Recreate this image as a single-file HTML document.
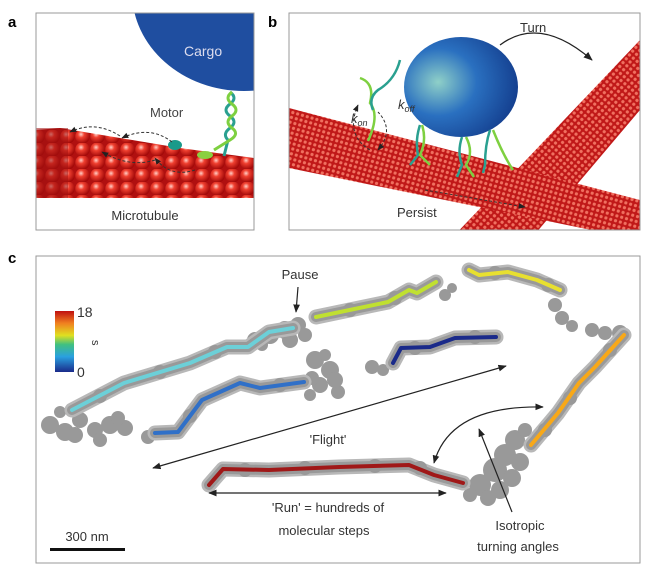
<!DOCTYPE html>
<html><head><meta charset="utf-8"><style>
body{margin:0;background:#fff;width:645px;height:580px;overflow:hidden}
svg{display:block;font-family:"Liberation Sans",sans-serif}
</style></head><body>
<svg width="645" height="580" viewBox="0 0 645 580">
<defs>
<radialGradient id="sph" cx="0.4" cy="0.35" r="0.65">
<stop offset="0" stop-color="#ffd0c8"/><stop offset="0.35" stop-color="#f04030"/><stop offset="1" stop-color="#a00808"/></radialGradient>
<pattern id="balls" width="15" height="13" patternUnits="userSpaceOnUse">
<rect width="15" height="13" fill="#b01010"/>
<circle cx="7.5" cy="6.5" r="7.2" fill="url(#sph)"/></pattern>
<pattern id="mt" width="5" height="5" patternUnits="userSpaceOnUse" patternTransform="rotate(16)">
<rect width="5" height="5" fill="#c01818"/><circle cx="2.5" cy="2.5" r="1.6" fill="#f07060"/></pattern>
<pattern id="mt2" width="5" height="5" patternUnits="userSpaceOnUse" patternTransform="rotate(-50)">
<rect width="5" height="5" fill="#c01818"/><circle cx="2.5" cy="2.5" r="1.6" fill="#f07060"/></pattern>
<radialGradient id="cb" cx="0.3" cy="0.45" r="0.75">
<stop offset="0" stop-color="#8fd0c8"/><stop offset="0.45" stop-color="#2a70c0"/><stop offset="1" stop-color="#123a8a"/></radialGradient>
<linearGradient id="bar" x1="0" y1="1" x2="0" y2="0">
<stop offset="0" stop-color="#1a2a8a"/><stop offset="0.25" stop-color="#2aa0e0"/><stop offset="0.45" stop-color="#40c080"/><stop offset="0.6" stop-color="#e0e020"/><stop offset="0.8" stop-color="#f08020"/><stop offset="1" stop-color="#c01010"/></linearGradient>
<marker id="ah" viewBox="0 0 10 10" refX="9" refY="5" markerWidth="7" markerHeight="7" orient="auto-start-reverse"><path d="M0,1 L10,5 L0,9 z" fill="#222"/></marker>
<clipPath id="ca"><rect x="36" y="13" width="218" height="217"/></clipPath>
<clipPath id="cbp"><rect x="289" y="13" width="351" height="217"/></clipPath>
</defs>
<text x="8" y="27" font-size="15" font-weight="bold">a</text>
<g clip-path="url(#ca)">
<ellipse cx="244" cy="-8" rx="112" ry="99" fill="#1f4ea0"/>
<path d="M36,130 L60,128 L120,138 L180,148 L254,158 L254,198 L36,198z" fill="url(#balls)"/>
<rect x="36" y="128" width="32" height="70" fill="#a01010" opacity="0.55"/>
<path d="M230,92 q8,6 0,12 q-8,6 0,12 q8,6 0,12 q-8,6 -2,12 l-4,16" stroke="#2aa090" stroke-width="3" fill="none"/>
<path d="M232,92 q-8,6 0,12 q8,6 0,12 q-8,6 0,12 q8,6 -2,12 l-16,10" stroke="#7ed040" stroke-width="3" fill="none"/>
<ellipse cx="175" cy="145" rx="7" ry="5" fill="#1a9a8a"/>
<ellipse cx="205" cy="155" rx="8" ry="4" fill="#8ad040"/>
<path d="M172,142 Q150,125 122,138" stroke="#333" stroke-dasharray="3,2" fill="none" marker-end="url(#ah)"/>
<path d="M120,136 Q95,120 70,132" stroke="#333" stroke-dasharray="3,2" fill="none" marker-end="url(#ah)"/>
<path d="M195,170 Q170,178 155,158" stroke="#333" stroke-dasharray="3,2" fill="none" marker-end="url(#ah)"/>
<path d="M155,160 Q130,168 102,152" stroke="#333" stroke-dasharray="3,2" fill="none" marker-end="url(#ah)"/>
</g>
<rect x="36" y="13" width="218" height="217" fill="none" stroke="#999"/>
<text x="184" y="56" font-size="14" fill="#dde">Cargo</text>
<text x="150" y="117" font-size="13" fill="#444">Motor</text>
<text x="145" y="220" font-size="13" fill="#333" text-anchor="middle">Microtubule</text>
<text x="268" y="27" font-size="15" font-weight="bold">b</text>
<g clip-path="url(#cbp)">
<path d="M640,40 L640,110 L530,240 L450,240z" fill="url(#mt2)"/>
<path d="M289,108 L640,200 L640,240 L289,168z" fill="url(#mt)"/>
<ellipse cx="461" cy="87" rx="57" ry="50" fill="url(#cb)"/>
<g stroke-width="2.5" fill="none">
<path d="M360,78 q15,5 10,25 q10,12 -2,38" stroke="#7ed040"/>
<path d="M400,60 q-5,20 -22,30 q-10,8 -5,20" stroke="#2aa090"/>
<path d="M420,125 q-5,15 -2,30 l-8,10" stroke="#2aa090"/><path d="M422,125 q5,15 -2,30 l10,10" stroke="#7ed040"/>
<path d="M462,137 q-5,15 0,28 l-5,12" stroke="#2aa090"/><path d="M466,137 q8,15 0,28 l8,12" stroke="#7ed040"/>
<path d="M490,130 q-5,15 -5,35 l-2,8" stroke="#2aa090"/><path d="M493,130 q10,25 20,40" stroke="#7ed040"/>
</g>
<path d="M370,150 Q345,135 358,105" stroke="#333" stroke-dasharray="3,2" fill="none" marker-end="url(#ah)"/>
<path d="M378,150 Q395,130 378,112" stroke="#333" stroke-dasharray="3,2" fill="none" marker-start="url(#ah)"/>
<line x1="425" y1="190" x2="525" y2="207" stroke="#333" stroke-dasharray="3,2" marker-end="url(#ah)"/>
</g>
<rect x="289" y="13" width="351" height="217" fill="none" stroke="#999"/>
<path d="M500,45 Q540,15 592,60" stroke="#222" stroke-width="1.3" fill="none" marker-end="url(#ah)"/>
<text x="520" y="32" font-size="13" fill="#333">Turn</text>
<text x="397" y="217" font-size="13" fill="#333">Persist</text>
<text x="351" y="123" font-size="13" font-style="italic" fill="#333">k<tspan font-size="9" dy="3">on</tspan></text>
<text x="398" y="109" font-size="13" font-style="italic" fill="#333">k<tspan font-size="9" dy="3">off</tspan></text>
<text x="8" y="263" font-size="15" font-weight="bold">c</text>
<rect x="36" y="256" width="604" height="307" fill="#fff" stroke="#999"/>
<rect x="55" y="311" width="19" height="61" fill="url(#bar)"/>
<text x="77" y="317" font-size="14" fill="#333">18</text>
<text x="77" y="377" font-size="14" fill="#333">0</text>
<text x="92" y="340" font-size="11" fill="#333" transform="rotate(90 92 340)">s</text>
<g fill="#999" stroke="none">
<circle cx="50" cy="425" r="9"/><circle cx="65" cy="432" r="9"/><circle cx="80" cy="420" r="8"/><circle cx="95" cy="430" r="8"/><circle cx="110" cy="425" r="9"/><circle cx="125" cy="428" r="8"/><circle cx="100" cy="440" r="7"/><circle cx="60" cy="412" r="6"/><circle cx="75" cy="435" r="8"/><circle cx="118" cy="418" r="7"/>
<circle cx="255" cy="340" r="8"/><circle cx="270" cy="335" r="9"/><circle cx="285" cy="330" r="9"/><circle cx="298" cy="325" r="8"/><circle cx="305" cy="335" r="7"/><circle cx="262" cy="345" r="6"/><circle cx="290" cy="340" r="8"/>
<circle cx="315" cy="360" r="9"/><circle cx="330" cy="370" r="9"/><circle cx="320" cy="385" r="8"/><circle cx="338" cy="392" r="7"/><circle cx="310" cy="395" r="6"/><circle cx="325" cy="355" r="6"/><circle cx="372" cy="367" r="7"/><circle cx="383" cy="370" r="6"/><circle cx="335" cy="380" r="8"/><circle cx="312" cy="378" r="7"/>
<circle cx="445" cy="295" r="6"/><circle cx="452" cy="288" r="5"/>
<circle cx="555" cy="305" r="7"/><circle cx="562" cy="318" r="7"/><circle cx="572" cy="326" r="6"/>
<circle cx="592" cy="330" r="7"/><circle cx="605" cy="333" r="7"/><circle cx="620" cy="333" r="8"/>
<circle cx="515" cy="440" r="10"/><circle cx="505" cy="455" r="11"/><circle cx="495" cy="470" r="12"/><circle cx="480" cy="485" r="11"/><circle cx="520" cy="462" r="9"/><circle cx="500" cy="490" r="9"/><circle cx="525" cy="430" r="7"/><circle cx="470" cy="495" r="7"/><circle cx="512" cy="478" r="9"/><circle cx="488" cy="498" r="8"/>
<circle cx="148" cy="437" r="7"/>
</g>
<g fill="none" stroke-linecap="round" stroke-linejoin="round">
<g stroke="#b8b8b8" stroke-width="15">
<polyline points="72,410 124,383 190,363 227,347 248,347 269,332 293,328"/>
<polyline points="316,317 388,302 409,290 417,293 436,282"/>
<polyline points="469,270 479,275 508,272 537,280 560,290"/>
<polyline points="624,335 595,367 579,383 558,413 531,445"/>
<polyline points="155,433 178,432 202,400 240,383 260,388 304,382"/>
<polyline points="393,363 401,348 430,347 455,338 496,337"/>
<polyline points="209,485 223,469 269,470 339,467 409,465 434,475 463,483"/>
</g>
<g stroke="#999" stroke-width="10">
<polyline points="72,410 124,383 190,363 227,347 248,347 269,332 293,328"/>
<polyline points="316,317 388,302 409,290 417,293 436,282"/>
<polyline points="469,270 479,275 508,272 537,280 560,290"/>
<polyline points="624,335 595,367 579,383 558,413 531,445"/>
<polyline points="155,433 178,432 202,400 240,383 260,388 304,382"/>
<polyline points="393,363 401,348 430,347 455,338 496,337"/>
<polyline points="209,485 223,469 269,470 339,467 409,465 434,475 463,483"/>
</g>
<g stroke="none" fill="#999">
<circle cx="100" cy="396" r="7"/><circle cx="160" cy="372" r="7"/><circle cx="215" cy="352" r="7"/>
<circle cx="350" cy="310" r="7"/><circle cx="395" cy="298" r="7"/>
<circle cx="495" cy="273" r="7"/><circle cx="548" cy="285" r="7"/>
<circle cx="610" cy="350" r="7"/><circle cx="570" cy="398" r="7"/><circle cx="545" cy="430" r="7"/>
<circle cx="190" cy="416" r="7"/><circle cx="280" cy="385" r="7"/>
<circle cx="415" cy="348" r="7"/><circle cx="475" cy="337" r="7"/>
<circle cx="245" cy="470" r="7"/><circle cx="305" cy="468" r="7"/><circle cx="375" cy="466" r="7"/><circle cx="420" cy="468" r="7"/>
</g>
<g stroke-width="4">
<polyline stroke="#6cd0d8" points="72,410 124,383 190,363 227,347 248,347 269,332 293,328"/>
<polyline stroke="#c0e030" points="316,317 388,302 409,290 417,293 436,282"/>
<polyline stroke="#e8e030" points="469,270 479,275 508,272 537,280 560,290"/>
<polyline stroke="#f8a818" points="624,335 595,367 579,383 558,413 531,445"/>
<polyline stroke="#3070c8" points="155,433 178,432 202,400 240,383 260,388 304,382"/>
<polyline stroke="#1a2a8a" points="393,363 401,348 430,347 455,338 496,337"/>
<polyline stroke="#a01818" points="209,485 223,469 269,470 339,467 409,465 434,475 463,483"/>
</g>
</g>
<g stroke="#222" stroke-width="1.2" fill="none">
<line x1="298" y1="287" x2="296" y2="312" marker-end="url(#ah)"/>
<line x1="153" y1="468" x2="506" y2="366" marker-start="url(#ah)" marker-end="url(#ah)"/>
<line x1="209" y1="493" x2="446" y2="493" marker-start="url(#ah)" marker-end="url(#ah)"/>
<path d="M434,463 Q450,405 543,407" marker-start="url(#ah)" marker-end="url(#ah)"/>
<line x1="512" y1="512" x2="479" y2="429" marker-end="url(#ah)"/>
</g>
<g font-size="13" fill="#333" text-anchor="middle">
<text x="300" y="279">Pause</text>
<text x="328" y="444">'Flight'</text>
<text x="328" y="512">'Run' = hundreds of</text>
<text x="324" y="535">molecular steps</text>
<text x="520" y="530">Isotropic</text>
<text x="518" y="551">turning angles</text>
<text x="87" y="541">300 nm</text>
</g>
<rect x="50" y="548" width="75" height="3" fill="#111"/>
</svg>
</body></html>
